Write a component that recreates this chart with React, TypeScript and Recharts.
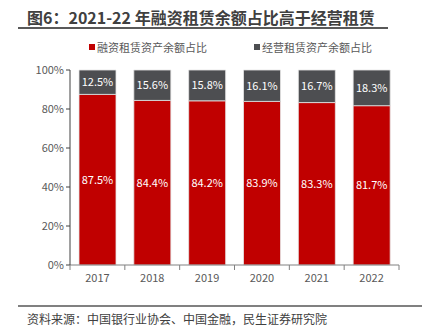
import React from "react";
import { BarChart, Bar, XAxis, YAxis, LabelList } from "recharts";

const years = ["2017", "2018", "2019", "2020", "2021", "2022"];
const financeShare = [87.5, 84.4, 84.2, 83.9, 83.3, 81.7];
const operatingShare = [12.5, 15.6, 15.8, 16.1, 16.7, 18.3];
const yTicks = [0, 20, 40, 60, 80, 100];

const title = "图6：2021-22 年融资租赁余额占比高于经营租赁";
const source = "资料来源：中国银行业协会、中国金融，民生证券研究院";
const financeName = "融资租赁资产余额占比";
const operatingName = "经营租赁资产余额占比";

const RED = "#C00000";
const GREY = "#4D4E51";
const TEXT = "#595959";
const FONT = "'Noto Sans CJK SC', 'Noto Sans', sans-serif";

const data = years.map((year, i) => ({
  year,
  finance: financeShare[i],
  operating: operatingShare[i],
}));

const W = 422;
const H = 334;
const margin = { top: 70, right: 23, bottom: 49, left: 20 };
const yAxisWidth = 50;
const plotWidth = W - margin.left - margin.right - yAxisWidth;
const band = plotWidth / years.length;

const pct = (v: number) => `${v.toFixed(1)}%`;

function XTick(props: any) {
  const { x, y, payload, index } = props;
  const left = x - band / 2;
  return (
    <g>
      <line x1={left} x2={left} y1={y - 8} y2={y - 3} stroke="#808080" />
      {index === years.length - 1 && (
        <line x1={left + band} x2={left + band} y1={y - 8} y2={y - 3} stroke="#808080" />
      )}
      <text x={x} y={y + 9} textAnchor="middle" fill={TEXT} fontSize={11} fontFamily={FONT}>
        {payload.value}
      </text>
    </g>
  );
}

export default function App() {
  return (
    <div style={{ position: "absolute", left: 0, top: 0, width: W, height: H, background: "#fff", fontFamily: FONT }}>
      <div style={{ position: "absolute", left: 27, top: 5, fontSize: 16, fontWeight: 700, color: "#404040", whiteSpace: "nowrap" }}>
        {title}
      </div>
      <div style={{ position: "absolute", left: 18, top: 27, width: 370, height: 2, background: "#595959" }} />

      <div style={{ position: "absolute", left: 89, top: 39, display: "flex", alignItems: "center", fontSize: 11, color: TEXT }}>
        <span style={{ width: 6, height: 6, background: RED, marginRight: 2 }} />
        {financeName}
      </div>
      <div style={{ position: "absolute", left: 254, top: 39, display: "flex", alignItems: "center", fontSize: 11, color: TEXT }}>
        <span style={{ width: 6, height: 6, background: GREY, marginRight: 2 }} />
        {operatingName}
      </div>

      <div style={{ position: "absolute", left: 0, top: 0 }}>
        <BarChart width={W} height={H} data={data} margin={margin}>
          <XAxis
            dataKey="year"
            height={20}
            axisLine={{ stroke: "#808080" }}
            tickLine={false}
            tick={<XTick />}
            interval={0}
          />
          <YAxis
            width={yAxisWidth}
            domain={[0, 100]}
            ticks={yTicks}
            tickFormatter={(v: number) => `${v}%`}
            axisLine={{ stroke: "#404040" }}
            tickLine={{ stroke: "#404040" }}
            tickSize={4}
            tick={{ fill: TEXT, fontSize: 11, fontFamily: FONT }}
          />
          <Bar dataKey="finance" stackId="a" fill={RED} stroke="#e6e6e6" strokeWidth={0.8} barSize={37} isAnimationActive={false}>
            <LabelList dataKey="finance" position="center" formatter={(v: any) => pct(Number(v))} fill="#fff" fontSize={11} fontFamily={FONT} />
          </Bar>
          <Bar dataKey="operating" stackId="a" fill={GREY} stroke="#e6e6e6" strokeWidth={0.8} barSize={37} isAnimationActive={false}>
            <LabelList dataKey="operating" position="center" formatter={(v: any) => pct(Number(v))} fill="#fff" fontSize={11} fontFamily={FONT} />
          </Bar>
        </BarChart>
      </div>

      <div style={{ position: "absolute", left: 18, top: 305, width: 404, height: 1.5, background: "#808080" }} />
      <div style={{ position: "absolute", left: 27, top: 310, fontSize: 12, color: "#404040", whiteSpace: "nowrap" }}>
        {source}
      </div>
    </div>
  );
}
